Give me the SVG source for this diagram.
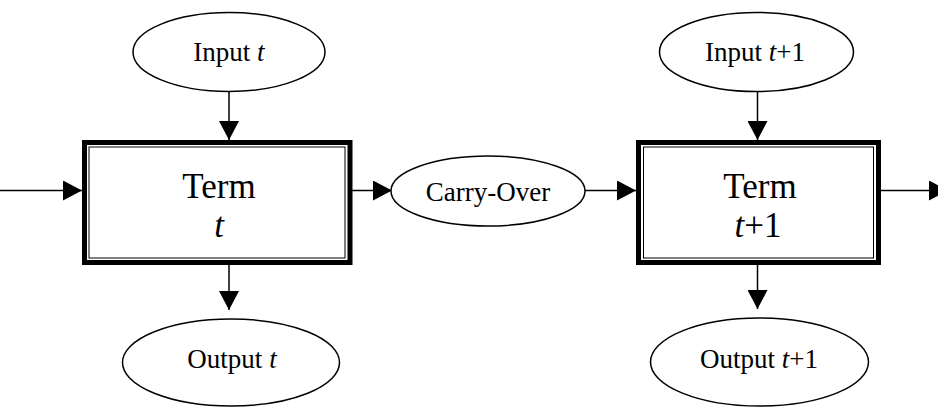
<svg xmlns="http://www.w3.org/2000/svg" width="938" height="407" viewBox="0 0 938 407">
<style>
  .ell { fill: #fff; stroke: #000; stroke-width: 1.5; }
  .outer { fill: #fff; stroke: #000; stroke-width: 5; }
  .inner { fill: none; stroke: #000; stroke-width: 1; }
  .lbl { font-family: "Liberation Serif", "Times New Roman", serif; font-size: 27px; fill: #000; text-anchor: middle; }
  .big { font-family: "Liberation Serif", "Times New Roman", serif; font-size: 35px; fill: #000; text-anchor: middle; }
  .it { font-style: italic; }
  .conn { stroke: #000; stroke-width: 1.5; fill: none; marker-end: url(#arr); }
</style>
<defs>
  <marker id="arr" markerUnits="userSpaceOnUse" markerWidth="19" markerHeight="20" refX="19" refY="10" orient="auto">
    <path d="M0,0 L19,10 L0,20 z" fill="#000"/>
  </marker>
</defs>
<rect width="938" height="407" fill="#fff"/>
<g id="connectors">
  <line class="conn" x1="0" y1="190.5" x2="82" y2="190.5"/>
  <line class="conn" x1="229" y1="92" x2="229" y2="140"/>
  <line class="conn" x1="229" y1="265" x2="229" y2="310"/>
  <line class="conn" x1="352" y1="190.5" x2="392" y2="190.5"/>
  <line class="conn" x1="585" y1="190.5" x2="636" y2="190.5"/>
  <line class="conn" x1="757.5" y1="92" x2="757.5" y2="140"/>
  <line class="conn" x1="757.5" y1="265" x2="757.5" y2="309"/>
  <line class="conn" x1="881" y1="190.5" x2="948" y2="190.5"/>
</g>
<g id="input-t">
  <ellipse class="ell" cx="229" cy="52" rx="96" ry="39.5"/>
  <text class="lbl" x="229" y="61">Input <tspan class="it">t</tspan></text>
</g>
<g id="term-t">
  <rect class="outer" x="84.5" y="142.5" width="265.5" height="120"/>
  <rect class="inner" x="89" y="147" width="256" height="111"/>
  <text class="big" x="219" y="198">Term</text>
  <text class="big it" x="219" y="237">t</text>
</g>
<g id="output-t">
  <ellipse class="ell" cx="231" cy="362.5" rx="108.5" ry="43.5"/>
  <text class="lbl" x="232" y="368">Output <tspan class="it">t</tspan></text>
</g>
<g id="carry-over">
  <ellipse class="ell" cx="488" cy="191" rx="97" ry="35"/>
  <text class="lbl" x="488" y="201">Carry-Over</text>
</g>
<g id="input-t1">
  <ellipse class="ell" cx="756.5" cy="52" rx="97" ry="39.5"/>
  <text class="lbl" x="755" y="61">Input <tspan class="it">t</tspan>+1</text>
</g>
<g id="term-t1">
  <rect class="outer" x="638.5" y="142.5" width="240" height="120"/>
  <rect class="inner" x="643.5" y="147" width="230" height="111"/>
  <text class="big" x="760" y="198">Term</text>
  <text class="big" x="758" y="237"><tspan class="it">t</tspan>+1</text>
</g>
<g id="output-t1">
  <ellipse class="ell" cx="759.5" cy="362" rx="109" ry="44"/>
  <text class="lbl" x="759" y="368">Output <tspan class="it">t</tspan>+1</text>
</g>
</svg>
